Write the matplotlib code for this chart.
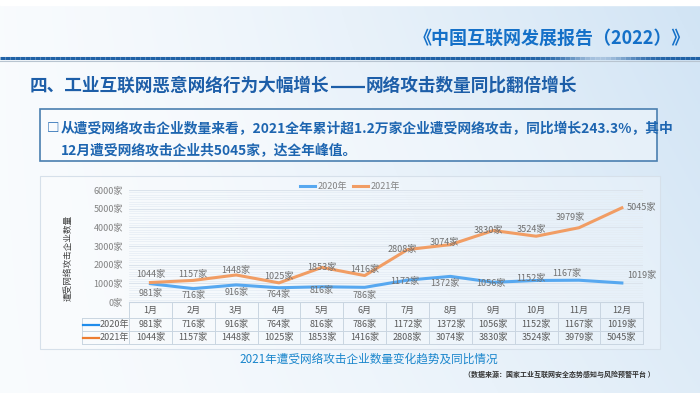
import numpy as np
import matplotlib.pyplot as plt
from matplotlib.patches import Rectangle
from matplotlib.lines import Line2D

plt.rcParams['font.family'] = ['Noto Sans CJK SC', 'DejaVu Sans']

months = [f'{i}月' for i in range(1, 13)]
y2020 = [981, 716, 916, 764, 816, 786, 1172, 1372, 1056, 1152, 1167, 1019]
y2021 = [1044, 1157, 1448, 1025, 1853, 1416, 2808, 3074, 3830, 3524, 3979, 5045]
series_names = ['2020年', '2021年']
yticks = [0, 1000, 2000, 3000, 4000, 5000, 6000]

header = '《中国互联网发展报告（2022）》'
title_a = '四、工业互联网恶意网络行为大幅增长'
title_b = '网络攻击数量同比翻倍增长'
note1 = '从遭受网络攻击企业数量来看，2021全年累计超1.2万家企业遭受网络攻击，同比增长243.3%，其中'
note2 = '12月遭受网络攻击企业共5045家，达全年峰值。'
ylabel = '遭受网络攻击企业数量'
caption = '2021年遭受网络攻击企业数量变化趋势及同比情况'
source = '（数据来源：国家工业互联网安全态势感知与风险预警平台 ）'

c2020 = '#1f8ceb'
c2021 = '#ed7d31'
grey = '#595959'

W, H = 700, 393
fig = plt.figure(figsize=(7, 3.93), dpi=100)


def fx(x):
    return x / W


def fy(y):
    return 1 - y / H


# background gradient
bg = fig.add_axes([0, 0, 1, 1], zorder=-10)
X, Y = np.meshgrid(np.linspace(0, 1, 350), np.linspace(0, 1, 200))
t = np.clip(0.12 + 0.7 * X ** 1.3 - 0.25 * Y * X, 0, 1)
blue = np.array([0.78, 0.87, 0.95])
img = (1 - t[..., None]) * np.ones(3) + t[..., None] * blue
bg.imshow(img, extent=[0, 1, 0, 1], aspect='auto', origin='upper')
bg.add_patch(Rectangle((0, fy(5)), 1, 1, color='white'))
bg.set_xlim(0, 1)
bg.set_ylim(0, 1)
bg.axis('off')

# header and rule
fig.text(fx(690), fy(38), header, ha='right', va='center', fontsize=13,
         fontweight='bold', color='#1470c8')
xs = np.linspace(0, 700, 141)
for a, b in zip(xs[:-1], xs[1:]):
    m = (a + b) / 2
    fade = np.exp(-((m - 600) / 35) ** 2) * 0.75
    col = (1 - fade) * np.array([0.12, 0.38, 0.65]) + fade * np.array([0.85, 0.9, 0.95])
    fig.add_artist(Line2D([fx(a), fx(b)], [fy(58), fy(58)], color=col, lw=2.2,
                          transform=fig.transFigure, solid_capstyle='butt'))
fig.add_artist(Line2D([0, 1], [fy(60.5), fy(60.5)], color='#b8c4d0', lw=0.8,
                      transform=fig.transFigure))

# title with a solid double dash between the two halves
tc = '#1d5ea8'
ta = fig.text(fx(30), fy(86), title_a, ha='left', va='center', fontsize=12.7,
              fontweight='bold', color=tc)
fig.canvas.draw()
bb = ta.get_window_extent()
dash_l = bb.x1 + 1
dash_r = dash_l + 34
fig.add_artist(Line2D([fx(dash_l), fx(dash_r)], [fy(87), fy(87)], color=tc, lw=1.6,
                      transform=fig.transFigure, solid_capstyle='butt'))
fig.text(fx(dash_r + 1), fy(86), title_b, ha='left', va='center', fontsize=12.7,
         fontweight='bold', color=tc)

# note box
fig.add_artist(Rectangle((fx(40), fy(161)), fx(657) - fx(40), fy(109) - fy(161),
                         transform=fig.transFigure, fc=(1, 1, 1, 0.35),
                         ec='#4a7fb0', lw=1.2))
fig.text(fx(47), fy(129), '□', ha='left', va='center', fontsize=9,
         fontweight='bold', color='#1d65b0')
fig.text(fx(61), fy(129), note1, ha='left', va='center', fontsize=9.9,
         fontweight='bold', color='#1d65b0')
fig.text(fx(61), fy(151), note2, ha='left', va='center', fontsize=9.9,
         fontweight='bold', color='#1d65b0')

# chart panel
fig.add_artist(Rectangle((fx(40), fy(349)), fx(660) - fx(40), fy(176) - fy(349),
                         transform=fig.transFigure, fc=(1, 1, 1, 0.25),
                         ec='#d6e0ea', lw=0.8))

left, right = 129, 643.3
ax = fig.add_axes([fx(left), fy(302), (right - left) / W, 112 / H])
ax.set_facecolor('none')
ax.set_xlim(-0.5, 11.5)
ax.set_ylim(0, 6000)
for v in np.arange(125, 6000, 125):
    ax.axhline(v, color='#dce6f0', lw=0.5, zorder=0)
for v in yticks[1:]:
    ax.axhline(v, color='#cfdae6', lw=0.8, zorder=1)
for s in ax.spines.values():
    s.set_visible(False)
ax.set_xticks([])
ax.set_yticks(yticks)
ax.set_yticklabels([f'{v}家' for v in yticks])
ax.tick_params(axis='y', length=0, pad=4.3, labelsize=6.5, labelcolor=grey)

x = np.arange(len(months))
ax.plot(x, y2020, color=c2020, lw=2.2, label=series_names[0], clip_on=False, zorder=3)
ax.plot(x, y2021, color=c2021, lw=2.2, label=series_names[1], clip_on=False, zorder=3)

off2021 = [(0, 8), (0, 6), (0, 5), (0, 6), (0, 0), (0, 6),
           (-5, 0), (-6, 2), (-5, 0), (-5, 7), (-9, 10), (5, 0)]
off2020 = [(0, -10), (0, -7), (0, -8), (0, -7), (0, -4), (0, -8),
           (-3, -1), (-6, -7), (-2, -1), (-5, 2), (-12, 7), (5, 8)]
for vals, offs in ((y2021, off2021), (y2020, off2020)):
    for i, (v, o) in enumerate(zip(vals, offs)):
        ax.annotate(f'{v}家', (i, v), xytext=o, textcoords='offset pixels',
                    ha='left' if i == len(vals) - 1 else 'center', va='center',
                    fontsize=6.5, color='#404040', zorder=4)

ax.legend(loc='center', bbox_to_anchor=(fx(350), fy(187)),
          bbox_transform=fig.transFigure, ncol=2, frameon=False, fontsize=6.5,
          handlelength=1.7, columnspacing=0.6, handletextpad=0.3,
          labelcolor=grey)

# data table below the plot
lc = '#c9d5e1'
colw = (right - left) / len(months)
rows = [302, 318, 331, 343.5]
fig.add_artist(Line2D([fx(left), fx(right)], [fy(302), fy(302)], color=lc, lw=0.8,
                      transform=fig.transFigure))
for yy in rows[1:]:
    fig.add_artist(Line2D([fx(82), fx(right)], [fy(yy), fy(yy)], color=lc, lw=0.7,
                          transform=fig.transFigure))
for k in range(len(months) + 1):
    xx = left + k * colw
    fig.add_artist(Line2D([fx(xx), fx(xx)], [fy(302), fy(343.5)], color=lc, lw=0.7,
                          transform=fig.transFigure))
fig.add_artist(Line2D([fx(82), fx(82)], [fy(318), fy(343.5)], color=lc, lw=0.7,
                      transform=fig.transFigure))

for k, m in enumerate(months):
    cx = left + (k + 0.5) * colw
    fig.text(fx(cx), fy(310.5), m, ha='center', va='center', fontsize=6.5, color=grey)
    fig.text(fx(cx), fy(324.5), f'{y2020[k]}家', ha='center', va='center',
             fontsize=6.5, color=grey)
    fig.text(fx(cx), fy(337.5), f'{y2021[k]}家', ha='center', va='center',
             fontsize=6.5, color=grey)
for name, col, yy in ((series_names[0], c2020, 324.5), (series_names[1], c2021, 337.5)):
    fig.add_artist(Line2D([fx(83), fx(99)], [fy(yy), fy(yy)], color=col, lw=1.6,
                          transform=fig.transFigure))
    fig.text(fx(100), fy(yy), name, ha='left', va='center', fontsize=6.5, color=grey)

fig.text(fx(68), fy(258), ylabel, rotation=90, ha='center', va='center',
         fontsize=6.2, color='#404040')

fig.text(fx(369), fy(359), caption, ha='center', va='center', fontsize=8.4,
         color='#1a86cc', fontweight='medium')
fig.text(fx(655), fy(374), source, ha='right', va='center', fontsize=5,
         color='#333333', fontweight='bold')

fig.savefig('out.png', dpi=100)
